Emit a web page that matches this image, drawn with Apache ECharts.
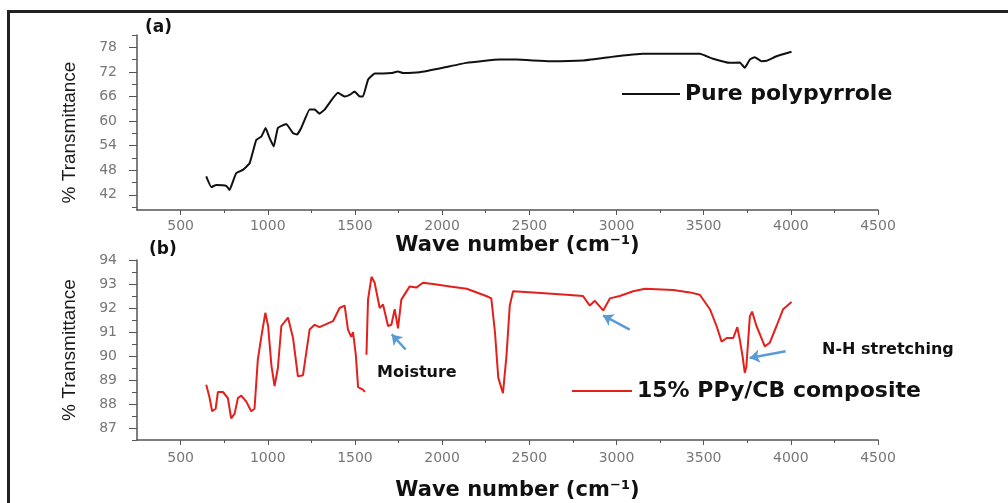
<!DOCTYPE html>
<html>
<head>
<meta charset="utf-8">
<script src="https://cdn.jsdelivr.net/npm/echarts@6/dist/echarts.min.js"></script>
<style>
  html, body { margin: 0; padding: 0; background: #fff; }
  #chart { width: 1008px; height: 503px; }
</style>
</head>
<body>
<div id="chart"></div>
<script>
// (a) pure polypyrrole, wave number / transmittance
const pureX = [647, 676, 705, 762, 781, 800, 819, 857, 896, 934, 963, 988, 1007, 1034, 1058, 1106, 1144, 1167, 1192, 1240,
  1269, 1297, 1326, 1374, 1403, 1441, 1470, 1499, 1527, 1546, 1575, 1613, 1661, 1709, 1747, 1776, 1871, 2005, 2139, 2330,
  2426, 2617, 2808, 2961, 3152, 3478, 3554, 3650, 3707, 3736, 3765, 3793, 3832, 3861, 3918, 4004]
const pureY = [46.5, 43.9, 44.4, 44.2, 43.2, 45.2, 47.3, 48.1, 49.7, 55.4, 56.2, 58.3, 56.2, 53.8, 58.3, 59.3, 57.1, 56.7, 58.3, 62.8,
  62.8, 61.8, 62.8, 65.6, 66.9, 66.0, 66.4, 67.2, 66.0, 66.0, 70.1, 71.6, 71.6, 71.7, 72.1, 71.7, 71.9, 73.0, 74.2, 75.0,
  75.0, 74.6, 74.8, 75.6, 76.4, 76.4, 75.2, 74.2, 74.3, 73.0, 75.0, 75.6, 74.6, 74.7, 75.8, 76.9]

// (b) 15% PPy/CB composite ('-' = break in the trace)
const compX = [647, 665, 681, 701, 714, 743, 771, 790, 810, 829, 848, 877, 905, 924, 943, 963, 986, 1002, 1021, 1039,
  1058, 1078, 1116, 1145, 1173, 1202, 1240, 1269, 1297, 1374, 1412, 1441, 1460, 1479, 1489, 1505, 1518, 1546, 1557, 1561,
  1566, 1575, 1595, 1613, 1642, 1661, 1690, 1709, 1728, 1747, 1766, 1814, 1852, 1890, 1948, 2045, 2141, 2253, 2282, 2303,
  2322, 2349, 2369, 2388, 2407, 2522, 2713, 2808, 2847, 2876, 2924, 2962, 3019, 3096, 3164, 3325, 3421, 3478, 3536, 3574,
  3603, 3632, 3670, 3693, 3707, 3723, 3736, 3745, 3765, 3778, 3803, 3851, 3879, 3918, 3956, 4004]
const compY = [88.8, 88.3, 87.7, 87.8, 88.5, 88.5, 88.25, 87.4, 87.6, 88.25, 88.35, 88.1, 87.7, 87.8, 89.85, 90.8, 91.8, 91.25, 89.6, 88.75,
  89.5, 91.25, 91.6, 90.75, 89.15, 89.2, 91.1, 91.3, 91.2, 91.45, 92.0, 92.1, 91.1, 90.8, 91.0, 90.05, 88.7, 88.6, 88.5, '-',
  90.05, 92.35, 93.3, 93.05, 92.0, 92.15, 91.25, 91.3, 91.95, 91.15, 92.35, 92.9, 92.85, 93.05, 93.0, 92.9, 92.8, 92.5, 92.4, 91.0,
  89.1, 88.45, 90.0, 92.1, 92.7, 92.65, 92.55, 92.5, 92.1, 92.3, 91.9, 92.4, 92.5, 92.7, 92.8, 92.75, 92.65, 92.55, 91.95, 91.25,
  90.6, 90.75, 90.75, 91.2, 90.7, 90.0, 89.3, 89.55, 91.65, 91.85, 91.25, 90.4, 90.55, 91.25, 91.95, 92.25]

// tick labels
const xLabels = [500, 1000, 1500, 2000, 2500, 3000, 3500, 4000, 4500]
const xMinor = [750, 1250, 1750, 2250, 2750, 3250, 3750, 4250]
const yLabelsA = [42, 48, 54, 60, 66, 72, 78]
const yMinorA = [39, 45, 51, 57, 63, 69, 75, 81]
const yLabelsB = [87, 88, 89, 90, 91, 92, 93, 94]
const yMinorB = [86.5, 87.5, 88.5, 89.5, 90.5, 91.5, 92.5, 93.5]

// arrows in (b), [from, to] in data units
const arrows = [
  [[1791, 90.27], [1711, 90.9]],
  [[3076, 91.1], [2923, 91.69]],
  [[3970, 90.2], [3764, 89.92]]
]

const chart = echarts.init(document.getElementById('chart'))

const labelFont = { color: '#777', fontSize: 14, fontFamily: 'DejaVu Sans, Verdana, sans-serif' }
const xName = 'Wave number (cm⁻¹)'
const xNameStyle = {
  color: '#111', fontSize: 21, fontWeight: 'bold', fontFamily: 'DejaVu Sans, Verdana, sans-serif',
  padding: [0, 0, 0, 20]
}
const axisColor = '#555'
const plain = v => String(v)

function mainX(gridIndex, gap, margin) {
  return {
    type: 'value', gridIndex: gridIndex, position: 'bottom', min: 250, max: 4500,
    name: xName, nameLocation: 'middle', nameGap: gap, nameTextStyle: xNameStyle,
    axisLine: { lineStyle: { color: axisColor, width: 1.5 } },
    axisTick: { customValues: xLabels, length: 5, lineStyle: { color: axisColor } },
    axisLabel: Object.assign({ customValues: xLabels, margin: margin, formatter: plain }, labelFont),
    splitLine: { show: false }
  }
}

function minorX(gridIndex) {
  return {
    type: 'value', gridIndex: gridIndex, position: 'bottom', offset: 0, min: 250, max: 4500,
    axisLine: { show: false },
    axisTick: { customValues: xMinor, length: 3, lineStyle: { color: axisColor } },
    axisLabel: { show: false },
    splitLine: { show: false }
  }
}

function mainY(gridIndex, min, max, labels, shift) {
  return {
    type: 'value', gridIndex: gridIndex, position: 'left', min: min, max: max,
    name: '% Transmittance', nameLocation: 'middle', nameGap: 58,
    nameTextStyle: {
      color: '#1a1a1a', fontSize: 19, fontFamily: 'Liberation Sans Narrow, Arial Narrow, Liberation Sans, sans-serif',
      padding: [0, shift, 0, 0]
    },
    axisLine: { show: true, lineStyle: { color: axisColor, width: 1.5 } },
    axisTick: { show: true, customValues: labels, length: 8, lineStyle: { color: axisColor } },
    axisLabel: Object.assign({ customValues: labels, margin: 20, formatter: plain }, labelFont),
    splitLine: { show: false }
  }
}

function minorY(gridIndex, min, max, ticks) {
  return {
    type: 'value', gridIndex: gridIndex, position: 'left', offset: 0, min: min, max: max,
    axisLine: { show: false },
    axisTick: { show: true, customValues: ticks, length: 5, lineStyle: { color: axisColor } },
    axisLabel: { show: false },
    splitLine: { show: false }
  }
}

const legendText = { color: '#111', fontSize: 22, fontWeight: 'bold', fontFamily: 'DejaVu Sans, Verdana, sans-serif' }

chart.setOption({
  animation: false,
  backgroundColor: '#fff',
  grid: [
    { left: 137, right: 130, top: 35, height: 175 },
    { left: 137, right: 130, top: 260, height: 180 }
  ],
  xAxis: [mainX(0, 25, 9), minorX(0), mainX(1, 40, 11), minorX(1)],
  yAxis: [
    mainY(0, 38.3, 81, yLabelsA, 20), minorY(0, 38.3, 81, yMinorA),
    mainY(1, 86.5, 94, yLabelsB, 0), minorY(1, 86.5, 94, yMinorB)
  ],
  legend: [
    {
      data: ['Pure polypyrrole'], left: 617, top: 78, icon: 'rect', itemWidth: 58, itemHeight: 2, itemGap: 8,
      textStyle: legendText
    },
    {
      data: ['15% PPy/CB composite'], left: 567, top: 375, icon: 'rect', itemWidth: 60, itemHeight: 2, itemGap: 8,
      textStyle: legendText
    }
  ],
  series: [
    {
      name: 'Pure polypyrrole', type: 'line', xAxisIndex: 0, yAxisIndex: 0,
      data: pureX.map((x, i) => [x, pureY[i]]),
      symbol: 'none', smooth: 0.1,
      lineStyle: { color: '#111', width: 2 }, itemStyle: { color: '#111' }
    },
    {
      name: '15% PPy/CB composite', type: 'line', xAxisIndex: 2, yAxisIndex: 2,
      data: compX.map((x, i) => [x, compY[i]]),
      symbol: 'none', connectNulls: false,
      lineStyle: { color: '#e3201c', width: 2 }, itemStyle: { color: '#e3201c' },
      markLine: {
        silent: true, symbol: ['none', 'arrow'], symbolSize: 10, animation: false,
        label: { show: false },
        lineStyle: { color: '#5b9bd5', width: 2.5, type: 'solid' },
        data: arrows.map(a => [{ coord: a[0] }, { coord: a[1] }])
      }
    }
  ],
  graphic: [
    {
      type: 'rect', shape: { x: 8.5, y: 11.5, width: 1100, height: 600 },
      style: { fill: 'none', stroke: '#222', lineWidth: 3 }, silent: true
    },
    {
      type: 'text', left: 145, top: 19,
      style: { text: '(a)', fill: '#111', fontSize: 17, fontWeight: 'bold', fontFamily: 'DejaVu Sans, sans-serif' }
    },
    {
      type: 'text', left: 149, top: 241,
      style: { text: '(b)', fill: '#111', fontSize: 17, fontWeight: 'bold', fontFamily: 'DejaVu Sans, sans-serif' }
    },
    {
      type: 'text', left: 377, top: 365,
      style: { text: 'Moisture', fill: '#111', fontSize: 16, fontWeight: 'bold', fontFamily: 'DejaVu Sans, sans-serif' }
    },
    {
      type: 'text', left: 822, top: 342,
      style: { text: 'N-H stretching', fill: '#111', fontSize: 16, fontWeight: 'bold', fontFamily: 'DejaVu Sans, sans-serif' }
    }
  ]
})
</script>
</body>
</html>
